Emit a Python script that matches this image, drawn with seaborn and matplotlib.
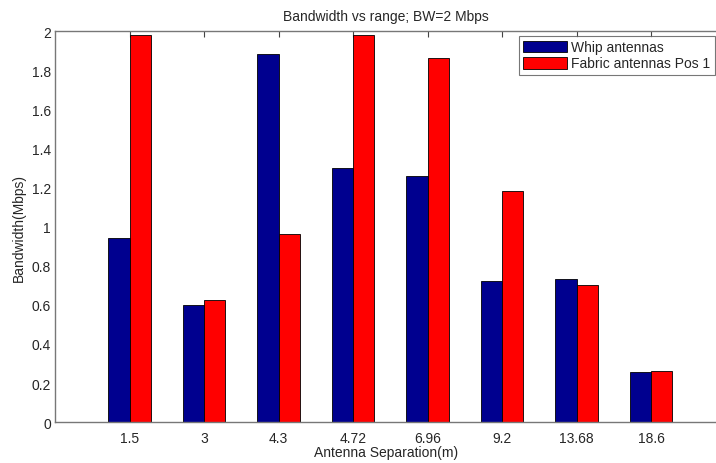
import pandas as pd
import matplotlib
matplotlib.use('Agg')
import matplotlib.pyplot as plt
import seaborn as sns
from matplotlib.ticker import FormatStrFormatter

# Values
separations = ['1.5', '3', '4.3', '4.72', '6.96', '9.2', '13.68', '18.6']
whip = [0.94, 0.60, 1.88, 1.30, 1.26, 0.72, 0.73, 0.255]
fabric = [1.98, 0.625, 0.962, 1.98, 1.86, 1.18, 0.70, 0.262]
series_names = ['Whip antennas', 'Fabric antennas Pos 1']

df = pd.DataFrame({
    'Separation': separations * 2,
    'Bandwidth': whip + fabric,
    'Series': [series_names[0]] * len(whip) + [series_names[1]] * len(fabric),
})

sns.set_style('white')
plt.rcParams['font.family'] = ['Liberation Sans', 'DejaVu Sans']

fig = plt.figure(figsize=(7.16, 4.64), dpi=100)
ax = fig.add_axes([0.077, 0.088, 0.923, 0.843])

sns.barplot(data=df, x='Separation', y='Bandwidth', hue='Series',
            order=separations, hue_order=series_names,
            palette=['#00008F', '#FF0000'], width=0.572,
            edgecolor='black', linewidth=0.6, saturation=1, ax=ax)

ax.set_xlim(-1, 7.87)
ax.set_ylim(0, 2)
ax.set_yticks([i * 0.2 for i in range(11)])
ax.yaxis.set_major_formatter(FormatStrFormatter('%g'))
ax.tick_params(axis='both', direction='in', length=4, width=0.8,
               color='#444444', labelsize=10, top=True, right=False)
ax.tick_params(axis='x', pad=6)
ax.tick_params(axis='y', pad=3)
for side in ['left', 'bottom', 'top']:
    ax.spines[side].set_color('#777777')
    ax.spines[side].set_linewidth(1.0)
ax.spines['right'].set_visible(False)

ax.set_title('Bandwidth vs range; BW=2 Mbps', fontsize=10, pad=8)
ax.set_xlabel('Antenna Separation(m)', fontsize=10, labelpad=0)
ax.set_ylabel('Bandwidth(Mbps)', fontsize=10, labelpad=4)

leg = ax.legend(loc='upper right', bbox_to_anchor=(0.998, 0.987),
                fontsize=10, frameon=True, fancybox=False,
                edgecolor='#555555', handlelength=3.1, handleheight=0.95,
                borderaxespad=0, borderpad=0.3, labelspacing=0.15,
                handletextpad=0.35)
leg.get_frame().set_linewidth(0.8)

fig.savefig('out.png', dpi=100)
